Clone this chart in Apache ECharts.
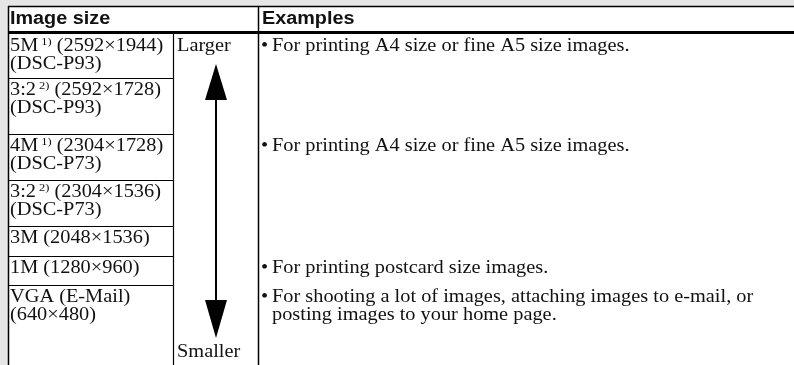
<!DOCTYPE html>
<html><head><meta charset="utf-8">
<script src="https://cdn.jsdelivr.net/npm/echarts@6/dist/echarts.min.js"></script>
<style>html,body{margin:0;padding:0;background:#e6e6e6}#c{width:794px;height:365px}</style>
</head><body><div id="c"></div>
<script>
// ---- data ----
const headers = ['Image size', 'Examples'];
const sizeNames = ['5M', '3:2', '4M', '3:2', '3M', '1M', 'VGA (E-Mail)'];
const sizeNotes = ['1)', '2)', '1)', '2)', '', '', ''];
const resolutions = ['(2592×1944)', '(2592×1728)', '(2304×1728)', '(2304×1536)', '(2048×1536)', '(1280×960)', '(640×480)'];
const models = ['(DSC-P93)', '(DSC-P93)', '(DSC-P73)', '(DSC-P73)', '', '', ''];
const examples = [
  'For printing A4 size or fine A5 size images.', '',
  'For printing A4 size or fine A5 size images.', '', '',
  'For printing postcard size images.',
  'For shooting a lot of images, attaching images to e-mail, or\nposting images to your home page.'
];
const scaleLabels = ['Larger', 'Smaller'];

// ---- layout ----
const W = 794, H = 365;
const rowTops = [34, 78, 134, 180, 226, 256, 285];
const resOnNewLine = [false, false, false, false, false, false, true];
const tableLeft = 8, tableTop = 6, col2 = 173, col3 = 258;
const serif = "'Liberation Serif', 'Times New Roman', serif";
const sans = "'Liberation Sans', Arial, sans-serif";
const FS = 18, LH = 18, SX = 1.13;

const chart = echarts.init(document.getElementById('c'), null, {renderer: 'canvas'});

function line(api, x1, y1, x2, y2, w) {
  const a = api.coord([x1, y1]), b = api.coord([x2, y2]);
  return {type: 'line', shape: {x1: a[0], y1: a[1], x2: b[0], y2: b[1]}, style: {stroke: '#000', lineWidth: w}};
}
function txt(api, x, y, text, font, extra, sx) {
  const p = api.coord([x, y]);
  return {type: 'text', x: p[0], y: p[1], scaleX: sx || SX,
    style: Object.assign({text: text, font: font, fill: '#111', verticalAlign: 'middle', align: 'left'}, extra || {})};
}

function renderFrame(params, api) {
  const tl = api.coord([tableLeft, tableTop]), br = api.coord([W, H]);
  const children = [];
  children.push({type: 'rect', shape: {x: tl[0], y: tl[1], width: br[0] - tl[0], height: br[1] - tl[1]}, style: {fill: '#fff'}});
  children.push(line(api, tableLeft, 6.5, W, 6.5, 1.5));
  children.push(line(api, tableLeft, 32.5, W, 32.5, 3));
  children.push(line(api, tableLeft + 0.5, tableTop, tableLeft + 0.5, H, 1.5));
  children.push(line(api, col2 + 0.5, 34, col2 + 0.5, H, 1.2));
  children.push(line(api, col3 + 0.5, tableTop, col3 + 0.5, H, 1.5));
  children.push(txt(api, 10, 19, headers[0], 'bold 18px ' + sans, null, 1.1));
  children.push(txt(api, 262, 19, headers[1], 'bold 18px ' + sans, null, 1.1));
  children.push(txt(api, 177, 46, scaleLabels[0], FS + 'px ' + serif));
  children.push(txt(api, 177, 352, scaleLabels[1], FS + 'px ' + serif));
  // arrow
  children.push(line(api, 216, 98, 216, 303, 2));
  const u = [[205, 100], [227, 100], [216, 64]].map(p => api.coord(p));
  const d = [[205, 300], [227, 300], [216, 338]].map(p => api.coord(p));
  children.push({type: 'polygon', shape: {points: u}, style: {fill: '#000'}});
  children.push({type: 'polygon', shape: {points: d}, style: {fill: '#000'}});
  return {type: 'group', children: children};
}

function renderRow(params, api) {
  const i = api.value(0);
  const top = rowTops[i];
  const children = [];
  if (i > 0) children.push(line(api, tableLeft, top + 0.5, col2, top + 0.5, 1.2));
  const y1 = top + 12;
  let first = '{t|' + sizeNames[i] + '}';
  if (sizeNotes[i]) first += '{s| ' + sizeNotes[i] + '}';
  let second = models[i];
  if (resOnNewLine[i]) second = resolutions[i];
  else first += '{t| ' + resolutions[i] + '}';
  const rich = {t: {font: FS + 'px ' + serif, fill: '#111'}, s: {font: '11px ' + serif, fill: '#111', verticalAlign: 'top'}};
  children.push(txt(api, 10, y1, first, FS + 'px ' + serif, {rich: rich}));
  if (second) children.push(txt(api, 10, y1 + LH, second, FS + 'px ' + serif));
  if (examples[i]) {
    children.push(txt(api, 261, y1, '•', FS + 'px ' + serif));
    children.push(txt(api, 272, y1 + (examples[i].indexOf('\n') >= 0 ? LH / 2 : 0), examples[i], FS + 'px ' + serif, {lineHeight: LH}));
  }
  return {type: 'group', children: children};
}

chart.setOption({
  backgroundColor: '#e6e6e6',
  animation: false,
  grid: {left: 0, right: 0, top: 0, bottom: 0},
  xAxis: {type: 'value', min: 0, max: W, show: false},
  yAxis: {type: 'value', min: 0, max: H, inverse: true, show: false},
  series: [
    {type: 'custom', coordinateSystem: 'cartesian2d', renderItem: renderFrame, data: [[0]], z: 1, silent: true},
    {type: 'custom', coordinateSystem: 'cartesian2d', renderItem: renderRow, data: sizeNames.map((_, i) => [i]), z: 2, silent: true}
  ]
});
</script></body></html>
